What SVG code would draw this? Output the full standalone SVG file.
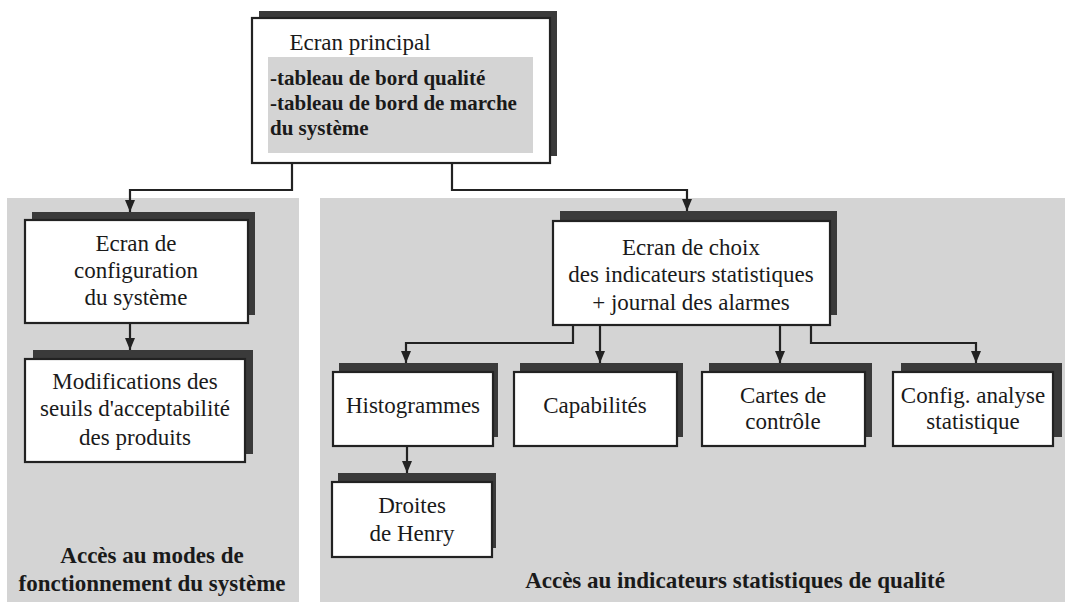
<svg xmlns="http://www.w3.org/2000/svg" width="1065" height="602" viewBox="0 0 1065 602" font-family="'Liberation Serif', 'DejaVu Serif', 'Times New Roman', serif">
<defs>
<style>
.panel{fill:#d4d4d4;}
.shadow{fill:#3a3a3a;}
.box{fill:#ffffff;stroke:#222222;stroke-width:2.2;}
.inner{fill:#d4d4d4;}
.t{font-size:23px;fill:#1a1a1a;text-anchor:middle;}
.tb{font-size:21px;font-weight:bold;fill:#1a1a1a;}
.lab{font-size:23px;font-weight:bold;fill:#1a1a1a;text-anchor:middle;}
.c{fill:none;stroke:#222222;stroke-width:2.2;}
</style>
<marker id="arr" viewBox="0 0 12 10" refX="12" refY="5" markerWidth="12" markerHeight="10" markerUnits="userSpaceOnUse" orient="auto">
<path d="M0,0 L12,5 L0,10 Z" fill="#222222"/>
</marker>
</defs>
<rect width="1065" height="602" fill="#ffffff"/>
<g id="panels">
<rect class="panel" x="7" y="198" width="292" height="404"/>
<rect class="panel" x="320" y="198" width="745" height="404"/>
</g>
<g id="connectors">
<path class="c" d="M292,163 V190 H130 V212" marker-end="url(#arr)"/>
<path class="c" d="M452,163 V190 H687 V211" marker-end="url(#arr)"/>
<path class="c" d="M130,323 V350" marker-end="url(#arr)"/>
<path class="c" d="M573,325 V343 H406 V363" marker-end="url(#arr)"/>
<path class="c" d="M600,325 V363" marker-end="url(#arr)"/>
<path class="c" d="M780,325 V363" marker-end="url(#arr)"/>
<path class="c" d="M811,325 V343 H976 V363" marker-end="url(#arr)"/>
<path class="c" d="M407,446 V473" marker-end="url(#arr)"/>
</g>
<g id="ecran-principal">
<rect class="shadow" x="259" y="11" width="298" height="145"/>
<rect class="box" x="252" y="18" width="298" height="145"/>
<text class="t" x="360" y="50">Ecran principal</text>
<rect class="inner" x="268" y="57" width="265" height="96"/>
<text class="tb" x="270" y="85">-tableau de bord qualité</text>
<text class="tb" x="270" y="110">-tableau de bord de marche</text>
<text class="tb" x="270" y="135">du système</text>
</g>
<g id="ecran-configuration">
<rect class="shadow" x="32" y="212" width="223" height="103"/>
<rect class="box" x="25" y="220" width="223" height="103"/>
<text class="t" x="136" y="251">Ecran de</text>
<text class="t" x="136" y="278">configuration</text>
<text class="t" x="136" y="305">du système</text>
</g>
<g id="modifications">
<rect class="shadow" x="33" y="350" width="220" height="104"/>
<rect class="box" x="25" y="359" width="220" height="103"/>
<text class="t" x="135" y="389">Modifications des</text>
<text class="t" x="135" y="416">seuils d'acceptabilité</text>
<text class="t" x="135" y="445">des produits</text>
</g>
<g id="ecran-choix">
<rect class="shadow" x="560" y="211" width="277" height="104"/>
<rect class="box" x="553" y="221" width="277" height="104"/>
<text class="t" x="691" y="255">Ecran de choix</text>
<text class="t" x="691" y="282">des indicateurs statistiques</text>
<text class="t" x="691" y="310">+ journal des alarmes</text>
</g>
<g id="histogrammes">
<rect class="shadow" x="339" y="363" width="159" height="74"/>
<rect class="box" x="333" y="372" width="160" height="74"/>
<text class="t" x="413" y="413">Histogrammes</text>
</g>
<g id="capabilites">
<rect class="shadow" x="520" y="363" width="163" height="74"/>
<rect class="box" x="514" y="372" width="163" height="74"/>
<text class="t" x="595" y="413">Capabilités</text>
</g>
<g id="cartes-controle">
<rect class="shadow" x="709" y="363" width="163" height="74"/>
<rect class="box" x="702" y="372" width="163" height="74"/>
<text class="t" x="783" y="403">Cartes de</text>
<text class="t" x="783" y="429">contrôle</text>
</g>
<g id="config-analyse">
<rect class="shadow" x="901" y="363" width="161" height="74"/>
<rect class="box" x="893" y="372" width="160" height="74"/>
<text class="t" x="973" y="403">Config. analyse</text>
<text class="t" x="973" y="429">statistique</text>
</g>
<g id="droites-henry">
<rect class="shadow" x="338" y="473" width="158" height="75"/>
<rect class="box" x="332" y="482" width="160" height="75"/>
<text class="t" x="412" y="513">Droites</text>
<text class="t" x="412" y="541">de Henry</text>
</g>
<g id="labels">
<text class="lab" x="152" y="563">Accès au modes de</text>
<text class="lab" x="152" y="591">fonctionnement du système</text>
<text class="lab" x="735" y="588">Accès au indicateurs statistiques de qualité</text>
</g>
</svg>
